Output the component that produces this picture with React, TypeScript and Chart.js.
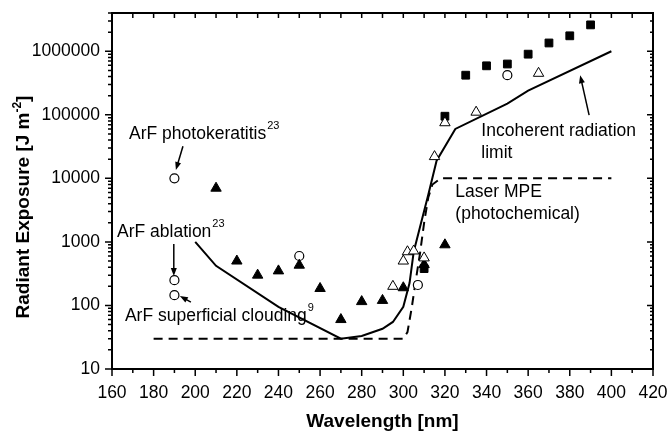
import { useEffect, useRef } from 'react';
import { Chart, registerables } from 'chart.js';

Chart.register(...registerables);

// ---------- data ----------
const incoherentWl = [200, 210, 240, 270, 280, 290, 295, 300, 303, 305, 308, 312, 316, 325, 350, 360, 400];
const incoherentVal = [1000, 420, 95, 30, 33, 43, 55, 95, 225, 700, 1700, 5500, 19000, 60000, 150000, 240000, 1000000];

const mpeWl = [180, 300, 302, 304, 306, 308, 310, 312, 314, 318, 400];
const mpeVal = [30, 30, 38, 90, 250, 650, 2000, 5000, 8000, 10000, 10000];

const filledTriWl = [210, 220, 230, 240, 250, 260, 270, 280, 290, 300, 310, 320];
const filledTriVal = [7000, 500, 300, 350, 430, 185, 60, 115, 120, 190, 440, 900];

const openTriWl = [295, 300, 302, 305, 310, 315, 320, 335, 365];
const openTriVal = [200, 500, 700, 720, 560, 22000, 75000, 110000, 450000];

const filledSqWl = [310, 320, 330, 340, 350, 360, 370, 380, 390];
const filledSqVal = [380, 95000, 420000, 590000, 630000, 900000, 1350000, 1750000, 2600000];

const openCircWl = [190, 190, 190, 250, 307, 350];
const openCircVal = [10000, 250, 145, 600, 210, 420000];

const xTickValues = [160, 180, 200, 220, 240, 260, 280, 300, 320, 340, 360, 380, 400, 420];
const yTickValues = [10, 100, 1000, 10000, 100000, 1000000];

const textLabels = [
  { text: 'ArF photokeratitis', sup: '23', wl: 168.2, val: 49500 },
  { text: 'ArF ablation', sup: '23', wl: 162.4, val: 1426 },
  { text: 'ArF superficial clouding', sup: '9', wl: 166.2, val: 68 },
  { text: 'Incoherent radiation', sup: '', wl: 337.5, val: 55200 },
  { text: 'limit', sup: '', wl: 337.5, val: 24900 },
  { text: 'Laser MPE', sup: '', wl: 325, val: 6070 },
  { text: '(photochemical)', sup: '', wl: 325, val: 2730 },
];

const arrowsFromWl = [194.1, 189.7, 197.9, 389.3];
const arrowsFromVal = [32100, 923, 113, 98600];
const arrowsToWl = [190.7, 189.7, 192.6, 385];
const arrowsToVal = [13500, 290, 141, 420000];

const FONT = "'Liberation Sans', Arial, Helvetica, sans-serif";

const pts = (xs: number[], ys: number[]) => xs.map((x, i) => ({ x, y: ys[i] }));

function drawArrow(ctx: CanvasRenderingContext2D, x1: number, y1: number, x2: number, y2: number) {
  const a = Math.atan2(y2 - y1, x2 - x1);
  const L = 8, W = 3;
  ctx.beginPath();
  ctx.moveTo(x1, y1);
  ctx.lineTo(x2 - (L - 2) * Math.cos(a), y2 - (L - 2) * Math.sin(a));
  ctx.stroke();
  ctx.beginPath();
  ctx.moveTo(x2, y2);
  ctx.lineTo(x2 - L * Math.cos(a) + W * Math.sin(a), y2 - L * Math.sin(a) - W * Math.cos(a));
  ctx.lineTo(x2 - L * Math.cos(a) - W * Math.sin(a), y2 - L * Math.sin(a) + W * Math.cos(a));
  ctx.closePath();
  ctx.fill();
}

const zeroPad = (s: any) => {
  s.paddingLeft = 0;
  s.paddingRight = 0;
  s.paddingTop = 0;
  s.paddingBottom = 0;
};

const framePlugin = {
  id: 'frameTicks',
  afterDraw(chart: any) {
    const { ctx, chartArea: ca, scales } = chart;
    const xs = scales.x, ys = scales.y;
    ctx.save();
    ctx.strokeStyle = '#000';
    ctx.fillStyle = '#000';

    // ticks
    ctx.lineWidth = 1.5;
    ctx.beginPath();
    for (let v = 160; v <= 420; v += 10) {
      const px = xs.getPixelForValue(v);
      const major = v % 20 === 0;
      ctx.moveTo(px, ca.bottom);
      ctx.lineTo(px, ca.bottom + (major ? 7 : 4));
      ctx.moveTo(px, ca.top);
      ctx.lineTo(px, ca.top + 5);
    }
    const ymin = ys.min, ymax = ys.max;
    for (let d = 10; d <= ymax; d *= 10) {
      for (let m = 1; m <= 9; m++) {
        const v = d * m;
        if (v < ymin || v > ymax) continue;
        const py = ys.getPixelForValue(v);
        const major = m === 1;
        ctx.moveTo(ca.left, py);
        ctx.lineTo(ca.left - (major ? 7 : 4), py);
        ctx.moveTo(ca.right, py);
        ctx.lineTo(ca.right - (major ? 6 : 3), py);
      }
    }
    ctx.stroke();

    // frame
    ctx.lineWidth = 2;
    ctx.strokeRect(ca.left, ca.top, ca.right - ca.left, ca.bottom - ca.top);

    // annotations
    ctx.textBaseline = 'middle';
    ctx.textAlign = 'left';
    for (const l of textLabels) {
      const px = xs.getPixelForValue(l.wl);
      const py = ys.getPixelForValue(l.val);
      ctx.font = `17.5px ${FONT}`;
      ctx.fillText(l.text, px, py);
      if (l.sup) {
        const w = ctx.measureText(l.text).width;
        ctx.font = `11px ${FONT}`;
        ctx.fillText(l.sup, px + w + 1, py - 8);
      }
    }
    ctx.lineWidth = 1.5;
    for (let i = 0; i < arrowsFromWl.length; i++) {
      drawArrow(
        ctx,
        xs.getPixelForValue(arrowsFromWl[i]),
        ys.getPixelForValue(arrowsFromVal[i]),
        xs.getPixelForValue(arrowsToWl[i]),
        ys.getPixelForValue(arrowsToVal[i])
      );
    }

    // axis titles
    ctx.textAlign = 'center';
    ctx.textBaseline = 'alphabetic';
    ctx.font = `bold 19px ${FONT}`;
    ctx.fillText('Wavelength [nm]', (ca.left + ca.right) / 2, 426.5);

    ctx.save();
    ctx.translate(29, 207);
    ctx.rotate(-Math.PI / 2);
    ctx.textAlign = 'left';
    const main1 = 'Radiant Exposure [J m';
    const supT = '-2';
    const main2 = ']';
    ctx.font = `bold 19px ${FONT}`;
    const w1 = ctx.measureText(main1).width;
    const w3 = ctx.measureText(main2).width;
    ctx.font = `bold 12px ${FONT}`;
    const w2 = ctx.measureText(supT).width;
    const total = w1 + w2 + w3;
    let sx = -total / 2;
    ctx.font = `bold 19px ${FONT}`;
    ctx.fillText(main1, sx, 0);
    sx += w1;
    ctx.font = `bold 12px ${FONT}`;
    ctx.fillText(supT, sx, -8);
    sx += w2;
    ctx.font = `bold 19px ${FONT}`;
    ctx.fillText(main2, sx, 0);
    ctx.restore();

    ctx.restore();
  },
};

export default function App() {
  const ref = useRef<HTMLCanvasElement | null>(null);

  useEffect(() => {
    if (!ref.current) return;
    Chart.defaults.font.family = FONT;
    const chart = new Chart(ref.current, {
      type: 'scatter',
      data: {
        datasets: [
          {
            label: 'open triangles',
            data: pts(openTriWl, openTriVal),
            pointStyle: 'triangle',
            pointRadius: 6,
            backgroundColor: '#fff',
            borderColor: '#000',
            borderWidth: 1,
            order: 0,
          },
          {
            label: 'filled triangles',
            data: pts(filledTriWl, filledTriVal),
            pointStyle: 'triangle',
            pointRadius: 6,
            backgroundColor: '#000',
            borderColor: '#000',
            borderWidth: 1,
            order: 1,
          },
          {
            label: 'filled squares',
            data: pts(filledSqWl, filledSqVal),
            pointStyle: 'rect',
            pointRadius: 5.5,
            backgroundColor: '#000',
            borderColor: '#000',
            borderWidth: 1,
            order: 2,
          },
          {
            label: 'open circles',
            data: pts(openCircWl, openCircVal),
            pointStyle: 'circle',
            pointRadius: 4.5,
            backgroundColor: '#fff',
            borderColor: '#000',
            borderWidth: 1.2,
            order: 3,
          },
          {
            label: 'Incoherent radiation limit',
            data: pts(incoherentWl, incoherentVal),
            showLine: true,
            borderColor: '#000',
            borderWidth: 2,
            pointRadius: 0,
            tension: 0,
            order: 4,
          },
          {
            label: 'Laser MPE',
            data: pts(mpeWl, mpeVal),
            showLine: true,
            borderColor: '#000',
            borderWidth: 2,
            borderDash: [9, 6],
            pointRadius: 0,
            tension: 0,
            order: 5,
          },
        ],
      },
      options: {
        animation: false,
        responsive: true,
        maintainAspectRatio: false,
        layout: { padding: { top: 13, right: 15, left: 0, bottom: 0 }, autoPadding: false },
        plugins: { legend: { display: false }, tooltip: { enabled: false } },
        scales: {
          x: {
            type: 'linear',
            min: 160,
            max: 420,
            afterBuildTicks: (s: any) => {
              s.ticks = xTickValues.map((v) => ({ value: v }));
            },
            afterFit: (s: any) => {
              s.height = 64;
              zeroPad(s);
            },
            grid: { display: false, drawTicks: false },
            border: { display: false },
            ticks: {
              color: '#000',
              font: { size: 17.5, family: FONT },
              padding: 14,
              maxRotation: 0,
              autoSkip: false,
            },
          },
          y: {
            type: 'logarithmic',
            min: 10,
            max: 4000000,
            afterBuildTicks: (s: any) => {
              s.ticks = yTickValues.map((v) => ({ value: v }));
            },
            afterFit: (s: any) => {
              s.width = 112;
              zeroPad(s);
            },
            grid: { display: false, drawTicks: false },
            border: { display: false },
            ticks: {
              color: '#000',
              font: { size: 17.5, family: FONT },
              padding: 12,
              autoSkip: false,
              callback: (v: any) => String(v),
            },
          },
        },
      },
      plugins: [framePlugin],
    });
    return () => chart.destroy();
  }, []);

  return (
    <div style={{ position: 'fixed', left: 0, top: 0, width: 668, height: 433, background: '#fff' }}>
      <canvas ref={ref} />
    </div>
  );
}
